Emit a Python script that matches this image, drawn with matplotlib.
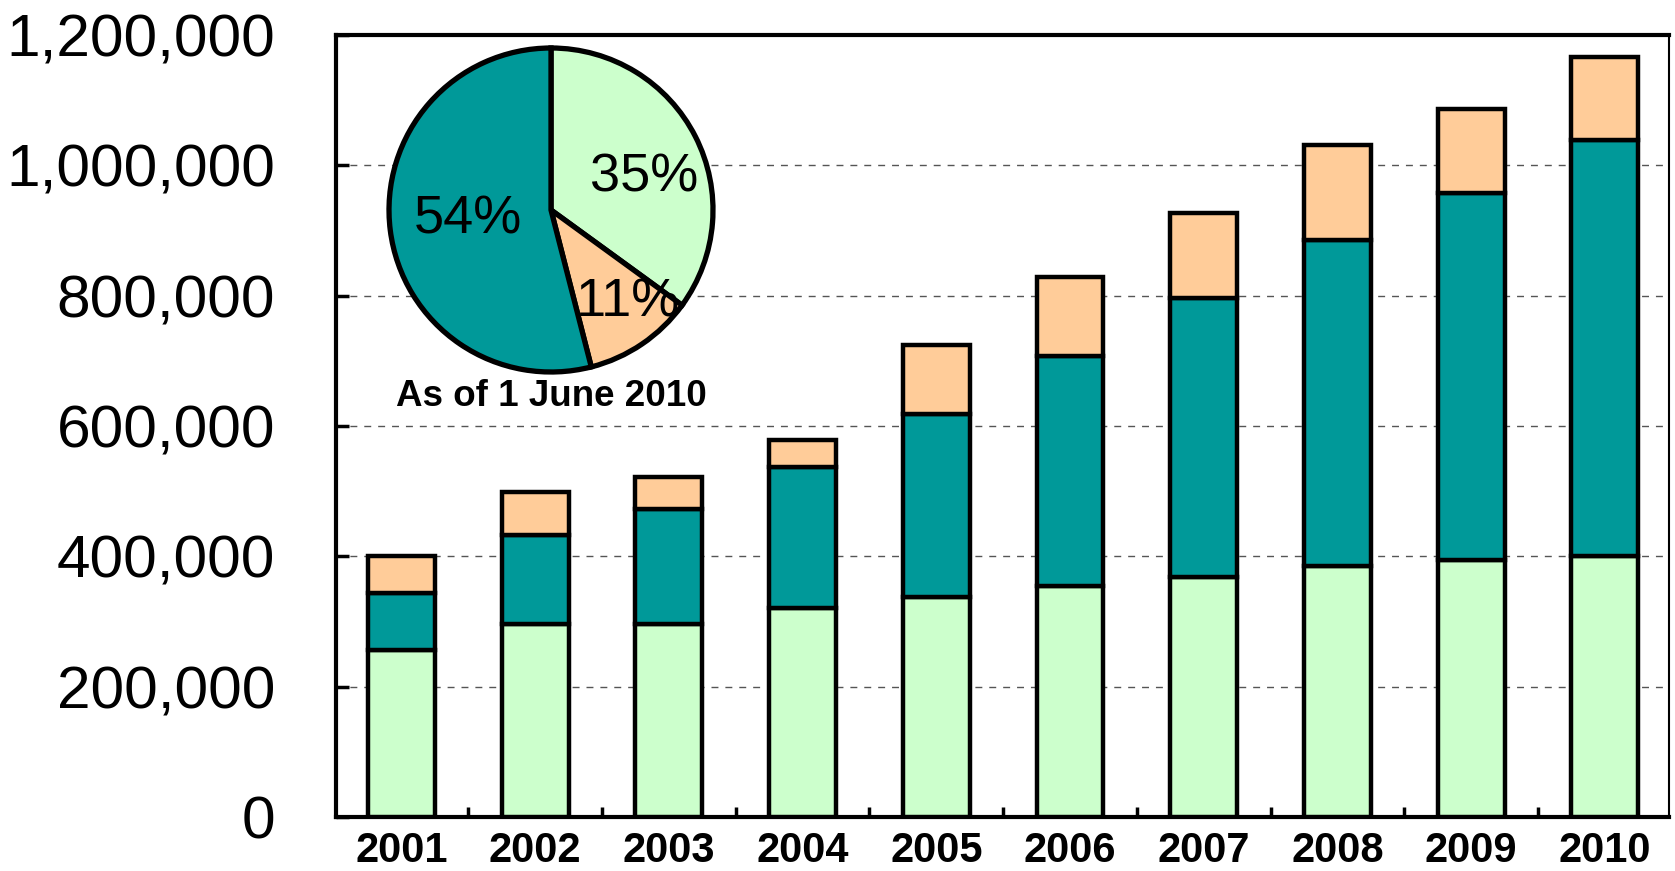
import matplotlib
matplotlib.use("Agg")
import matplotlib.pyplot as plt
from matplotlib.ticker import FuncFormatter, FixedLocator

plt.rcParams['font.family'] = ['Liberation Sans', 'DejaVu Sans']

# data
years = ['2001', '2002', '2003', '2004', '2005', '2006', '2007', '2008', '2009', '2010']
green = [257000, 296000, 296000, 320000, 338000, 354000, 369000, 385000, 395000, 401000]
teal = [87000, 137000, 177000, 217000, 281000, 354000, 428000, 500000, 562000, 638000]
orange = [57000, 65000, 49000, 41000, 106000, 120000, 130000, 146000, 130000, 128000]

pie_values = [35, 11, 54]
pie_labels = ['35%', '11%', '54%']
pie_note = 'As of 1 June 2010'

c_green = '#CCFFCC'
c_teal = '#009999'
c_orange = '#FFCC99'

fig = plt.figure(figsize=(16.75, 8.71), dpi=100)
ax = fig.add_axes([336 / 1675, 54 / 871, (1669 - 336) / 1675, (817 - 35) / 871])

x = list(range(len(years)))
bottom2 = [g for g in green]
bottom3 = [g + t for g, t in zip(green, teal)]
kw = dict(width=0.5, edgecolor='black', linewidth=3.2, zorder=3)
ax.bar(x, green, color=c_green, **kw)
ax.bar(x, teal, bottom=bottom2, color=c_teal, **kw)
ax.bar(x, orange, bottom=bottom3, color=c_orange, **kw)

ax.set_xlim(-0.49, 9.48)
ax.set_ylim(0, 1200000)
ax.set_yticks(range(0, 1200001, 200000))
ax.yaxis.set_major_formatter(FuncFormatter(lambda v, p: f'{v:,.0f}'))
ax.tick_params(axis='y', direction='in', length=9, width=2.5, labelsize=43.5, pad=44)

ax.set_xticks(x)
ax.set_xticklabels(years, fontweight='bold', fontsize=30)
ax.tick_params(axis='x', which='major', length=0, pad=10)
ax.xaxis.set_minor_locator(FixedLocator([i + 0.5 for i in range(len(years) - 1)]))
ax.tick_params(axis='x', which='minor', direction='in', length=7, width=2.5)

ax.grid(axis='y', linestyle=(0, (5, 5)), color='#555555', linewidth=1, zorder=0)
ax.set_axisbelow(True)
for s in ['left', 'bottom', 'top']:
    ax.spines[s].set_linewidth(3)
ax.spines['right'].set_linewidth(1.5)

# inset pie
r = 162
cx, cy = 551, 210
pax = fig.add_axes([(cx - r) / 1675, (871 - cy - r) / 871, 2 * r / 1675, 2 * r / 871])
wedges, _ = pax.pie(pie_values, colors=[c_green, c_orange, c_teal], startangle=90,
                    counterclock=False, radius=1,
                    wedgeprops=dict(edgecolor='black', linewidth=3.8))
for w in wedges:
    w.set_clip_on(False)
pax.set_xlim(-1, 1)
pax.set_ylim(-1, 1)
pax.set_aspect('equal')
label_pos = [(0.574, 0.198), (0.475, -0.568), (-0.512, -0.056)]
for lbl, (lx, ly) in zip(pie_labels, label_pos):
    pax.text(lx, ly, lbl, ha='center', va='center', fontsize=39)
pax.text(0, -1.154, pie_note, ha='center', va='center', fontsize=26.5,
         fontweight='bold', clip_on=False)

fig.savefig('out.png', dpi=100)
